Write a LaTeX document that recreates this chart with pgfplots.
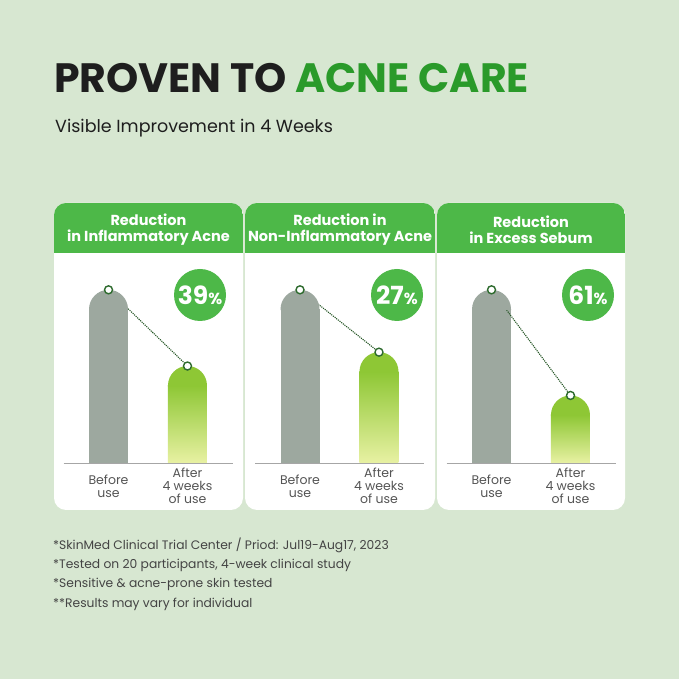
\documentclass[border=0pt]{standalone}
\usepackage{pgfplots}
\usepackage{pgfplotstable}
\pgfplotsset{compat=1.18}
\usepackage{fontspec}
\setmainfont{Poppins}
\definecolor{bg}{HTML}{D7E7D1}
\definecolor{hdr}{HTML}{4DB848}
\definecolor{tdark}{HTML}{1E1E1E}
\definecolor{tgreen}{HTML}{2A9A2A}
\definecolor{bargrey}{HTML}{9DA89F}
\definecolor{limetop}{HTML}{8EC735}
\definecolor{limebot}{HTML}{E8F1A3}
\definecolor{dkgreen}{HTML}{2E6B2E}
\definecolor{lblgrey}{HTML}{555555}
\definecolor{fngrey}{HTML}{444444}

% half-disc cap for the rounded bar tops
\pgfdeclareplotmark{halfcap}{%
  \pgfpathmoveto{\pgfqpoint{-\pgfplotmarksize}{-0.8pt}}%
  \pgfpathlineto{\pgfqpoint{-\pgfplotmarksize}{0pt}}%
  \pgfpatharc{180}{0}{\pgfplotmarksize}%
  \pgfpathlineto{\pgfqpoint{\pgfplotmarksize}{-0.8pt}}%
  \pgfpathclose
  \pgfusepathqfill}

% relative heights (before = 100)
\pgfplotstableread{
x v
0 100
1 56
}\dataA
\pgfplotstableread{
x v
0 100
1 64
}\dataB
\pgfplotstableread{
x v
0 100
1 39
}\dataC

% bar cap radius: 19.5pt = 11.25 data units (173.3pt per 100)
\pgfplotsset{
  panel/.style={
    scale only axis, width=169pt, height=213pt,
    xmin=-0.57, xmax=1.57, ymin=0, ymax=123,
    hide y axis, axis x line*=bottom,
    x axis line style={draw=gray!70, line width=0.9pt},
    xtick={0,1}, major tick length=0pt,
    xticklabels={{Before\\use},{After\\4 weeks\\of use}},
    xticklabel style={anchor=center, yshift=-23pt, align=center,
      font=\fontsize{12.5}{13}\selectfont, text=lblgrey},
    clip=true,
  },
  cap/.style={only marks, mark=halfcap, mark size=19.5pt, mark options={draw=none, fill=#1}},
  beforebar/.style={ybar, bar shift=0pt, bar width=39pt, fill=bargrey, draw=none},
  afterbar/.style={ybar, bar shift=0pt, bar width=39pt,
    draw=none, top color=limetop, bottom color=limebot},
  link/.style={densely dotted, line width=1.1pt, color=dkgreen!80!black,
    mark=*, mark size=4pt, mark options={solid, fill=white, draw=dkgreen, line width=1.4pt}},
}
\newcommand{\panelplots}[1]{%
  \addplot[beforebar] table[x=x, y expr=\thisrow{v}-11.25, skip coords between index={1}{2}] {#1};
  \addplot[afterbar] table[x=x, y expr=\thisrow{v}-11.25, skip coords between index={0}{1}] {#1};
  \addplot[cap=bargrey] table[x=x, y expr=\thisrow{v}-11.25, skip coords between index={1}{2}] {#1};
  \addplot[cap=limetop] table[x=x, y expr=\thisrow{v}-11.25, skip coords between index={0}{1}] {#1};
  \addplot[link] table[x=x, y=v] {#1};
}

\newcommand{\Y}[1]{679-#1}

\begin{document}
\begin{tikzpicture}[x=1pt,y=1pt]
\fill[bg] (0,0) rectangle (679,679);

% title
\node[anchor=base west, inner sep=0pt, font=\fontsize{41}{41}\selectfont\bfseries] at (54,{\Y{93}})
  {\color{tdark}PROVEN TO \color{tgreen}ACNE CARE};
\node[anchor=base west, inner sep=0pt, font=\fontsize{17.5}{18}\selectfont, text=tdark] at (55,{\Y{133}})
  {Visible Improvement in 4 Weeks};

% panels
\foreach \xa/\xb in {54/243, 245/435, 437/625}{
  \fill[white, rounded corners=12pt] (\xa,{\Y{510}}) rectangle (\xb,{\Y{203}});
  \begin{scope}
    \clip[rounded corners=12pt] (\xa,{\Y{510}}) rectangle (\xb,{\Y{203}});
    \fill[hdr] (\xa,{\Y{253}}) rectangle (\xb,{\Y{203}});
  \end{scope}
}
\foreach \xc/\txt in {148.5/{Reduction\\in Inflammatory Acne}, 340/{Reduction in\\Non-Inflammatory Acne}, 531/{Reduction\\in Excess Sebum}}{
  \node[align=center, text=white, font=\fontsize{14.5}{16}\selectfont\bfseries] at (\xc,{\Y{230}}) {\txt};
}

% percent circles
\foreach \xc/\p in {200/39, 397/27, 588/61}{
  \fill[hdr] (\xc,{\Y{295}}) circle (26);
  \node[text=white, inner sep=0pt] at (\xc,{\Y{295}})
    {\fontsize{25}{25}\selectfont\bfseries\p\fontsize{16}{16}\selectfont\%};
}

% charts
\begin{axis}[panel, at={(63.5pt,216pt)}, anchor=south west]
  \panelplots{\dataA}
\end{axis}
\begin{axis}[panel, at={(255pt,216pt)}, anchor=south west]
  \panelplots{\dataB}
\end{axis}
\begin{axis}[panel, at={(446.5pt,216pt)}, anchor=south west]
  \panelplots{\dataC}
\end{axis}

% footnotes
\node[anchor=west, align=left, inner sep=0pt, text=fngrey, font=\fontsize{12.3}{19.2}\selectfont] at (53,{\Y{574}})
  {*SkinMed Clinical Trial Center / Priod: Jul19-Aug17, 2023\\
   *Tested on 20 participants, 4-week clinical study\\
   *Sensitive \& acne-prone skin tested\\
   **Results may vary for individual};
\end{tikzpicture}
\end{document}
